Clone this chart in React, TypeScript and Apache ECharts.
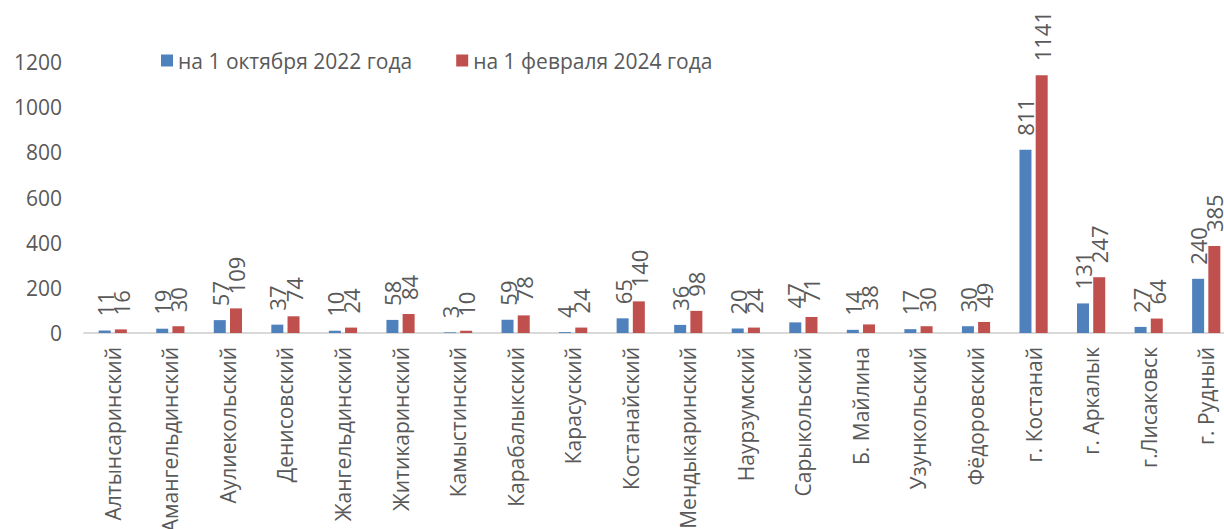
import React, { useEffect, useRef } from "react";
import * as echarts from "echarts";

const categories = [
  "Алтынсаринский", "Амангельдинский", "Аулиекольский", "Денисовский", "Жангельдинский",
  "Житикаринский", "Камыстинский", "Карабалыкский", "Карасуский", "Костанайский",
  "Мендыкаринский", "Наурзумский", "Сарыкольский", "Б. Майлина", "Узункольский",
  "Фёдоровский", "г. Костанай", "г. Аркалык", "г.Лисаковск", "г. Рудный",
];
const seriesNames = ["на 1 октября 2022 года", "на 1 февраля 2024 года"];
const oct2022 = [11, 19, 57, 37, 10, 58, 3, 59, 4, 65, 36, 20, 47, 14, 17, 30, 811, 131, 27, 240];
const feb2024 = [16, 30, 109, 74, 24, 84, 10, 78, 24, 140, 98, 24, 71, 38, 30, 49, 1141, 247, 64, 385];
const yTicks = { min: 0, max: 1200, interval: 200 };

const FONT = "'Open Sans', 'Noto Sans', sans-serif";
const TEXT = "#595959";

export default function App() {
  const ref = useRef<HTMLDivElement>(null);
  useEffect(() => {
    document.body.style.margin = "0";
    const chart = echarts.init(ref.current!, null, { renderer: "svg" });
    const label = {
      show: true,
      position: "top" as const,
      rotate: 90,
      align: "left" as const,
      verticalAlign: "middle" as const,
      distance: 14,
      color: TEXT,
      fontSize: 22,
      fontFamily: FONT,
    };
    chart.setOption({
      animation: false,
      textStyle: { fontFamily: FONT },
      legend: {
        left: 156,
        top: 45,
        itemWidth: 12,
        itemHeight: 12,
        itemGap: 44,
        icon: "rect",
        textStyle: { color: TEXT, fontSize: 21, fontFamily: FONT },
        data: seriesNames,
      },
      grid: {
        left: 84,
        top: 62,
        width: 1151,
        bottom: 196,
        containLabel: false,
        outerBoundsMode: "none",
      },
      xAxis: {
        type: "category",
        data: categories,
        axisLine: { lineStyle: { color: "#d9d9d9", width: 2 } },
        axisTick: { show: false },
        axisLabel: {
          rotate: 90,
          interval: 0,
          color: TEXT,
          fontSize: 21,
          fontFamily: FONT,
          margin: 14,
        },
      },
      yAxis: {
        type: "value",
        min: yTicks.min,
        max: yTicks.max,
        interval: yTicks.interval,
        splitLine: { show: false },
        axisLine: { show: false },
        axisTick: { show: false },
        axisLabel: {
          color: TEXT,
          fontSize: 21,
          fontFamily: FONT,
          margin: 22,
          formatter: (v: number) => String(v),
        },
      },
      series: [
        {
          name: seriesNames[0],
          type: "bar",
          data: oct2022,
          barWidth: 12,
          barGap: "35%",
          itemStyle: { color: "#4F81BD" },
          label,
        },
        {
          name: seriesNames[1],
          type: "bar",
          data: feb2024,
          barWidth: 12,
          itemStyle: { color: "#C0504D" },
          label,
        },
      ],
    });
    return () => chart.dispose();
  }, []);
  return <div ref={ref} style={{ width: 1224, height: 529 }} />;
}
